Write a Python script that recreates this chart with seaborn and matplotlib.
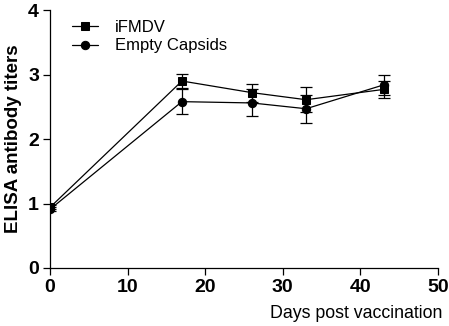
import matplotlib
matplotlib.use("Agg")
import matplotlib.pyplot as plt
import seaborn as sns
import pandas as pd

days = [0, 17, 26, 33, 43]
ifmdv_mean = [0.94, 2.90, 2.72, 2.61, 2.77]
ifmdv_err = [0.03, 0.11, 0.14, 0.19, 0.13]
empty_mean = [0.91, 2.58, 2.56, 2.47, 2.84]
empty_err = [0.03, 0.19, 0.21, 0.22, 0.16]
series_names = ["iFMDV", "Empty Capsids"]

sns.set_theme(style="ticks")
plt.rcParams['font.family'] = ['Liberation Sans', 'DejaVu Sans']

df = pd.DataFrame({
    "day": days * 2,
    "titer": ifmdv_mean + empty_mean,
    "err": ifmdv_err + empty_err,
    "group": [series_names[0]] * len(days) + [series_names[1]] * len(days),
})

fig = plt.figure(figsize=(4.49, 3.26), dpi=100)
ax = fig.add_axes([0.1114, 0.178, 0.8641, 0.791])

sns.lineplot(data=df, x="day", y="titer", hue="group", style="group",
             markers={"iFMDV": "s", "Empty Capsids": "o"}, dashes=False,
             palette={"iFMDV": "black", "Empty Capsids": "black"},
             linewidth=0.9, markersize=6, markeredgecolor="black", ax=ax)

for name in series_names:
    sub = df[df["group"] == name]
    ax.errorbar(sub["day"], sub["titer"], yerr=sub["err"], fmt="none",
                ecolor="black", elinewidth=0.9, capsize=4, capthick=0.9)

sns.despine(ax=ax)
for s in ["left", "bottom"]:
    ax.spines[s].set_linewidth(0.9)
    ax.spines[s].set_color("black")

ax.set_xlim(0, 50)
ax.set_ylim(0, 4)
ax.set_xticks([0, 10, 20, 30, 40, 50])
ax.set_yticks([0, 1, 2, 3, 4])
ax.tick_params(direction="out", length=5, width=0.9, color="black", pad=3,
               labelsize=14, labelcolor="black")
for lbl in ax.get_xticklabels() + ax.get_yticklabels():
    lbl.set_fontweight("bold")

ax.set_ylabel("ELISA antibody titers", fontsize=13.5, fontweight="bold",
              labelpad=4, color="black")
ax.set_xlabel("Days post vaccination", fontsize=12.8, loc="right",
              color="black")
ax.xaxis.set_label_coords(1.01, -0.145, transform=ax.transAxes)
ax.xaxis.label.set_verticalalignment("top")

leg = ax.legend(loc="upper left", bbox_to_anchor=(0.03, 1.0), frameon=False,
                fontsize=12, handlelength=1.6, handletextpad=1.0,
                labelspacing=0.2, borderaxespad=0.2)
for t in leg.get_texts():
    t.set_color("black")

fig.savefig("out.png", dpi=100)
